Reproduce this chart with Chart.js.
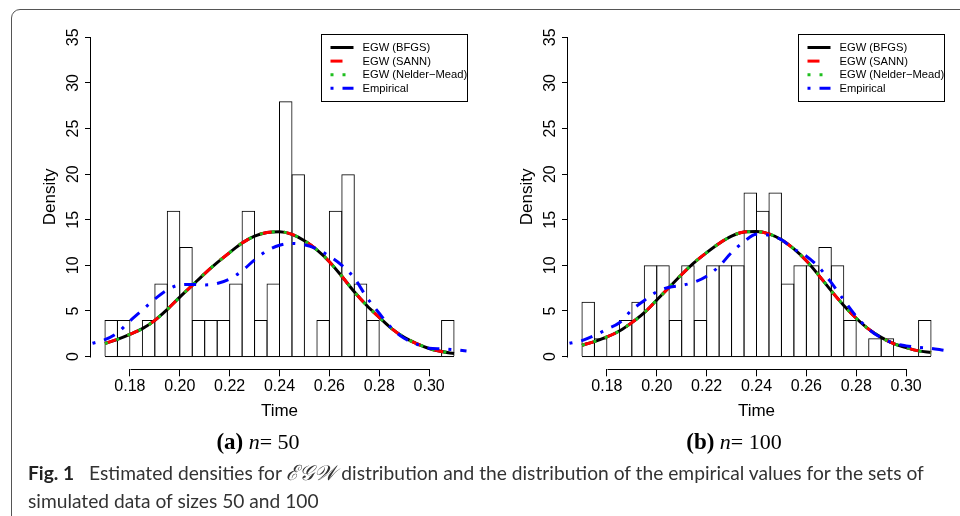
<!DOCTYPE html>
<html>
<head>
<meta charset="utf-8">
<script src="https://cdn.jsdelivr.net/npm/chart.js@4.4.1/dist/chart.umd.min.js"></script>
<style>
  body { margin: 0; width: 960px; height: 516px; background: #fff; overflow: hidden; position: relative; }
  #frame { position: absolute; left: 11px; top: 9px; width: 1000px; height: 600px;
           border: 1.5px solid #555; border-radius: 9px; }
  canvas { position: absolute; top: 0; }
  #c50 { left: 0; }
  #c100 { left: 477px; }
  .sub { position: absolute; top: 429px; width: 220px; text-align: center;
         font-family: "Liberation Serif", "Times New Roman", serif; font-size: 22px; line-height: 26px; color: #000; }
  .sub b { font-size: 23px; }
  #cap { position: absolute; left: 28px; top: 459px; font-family: Lato, "Open Sans", sans-serif;
         font-size: 19.2px; line-height: 27px; color: #333; white-space: nowrap; }
  #cap b { color: #222; margin-right: 10px; }
  .cal { font-family: "DejaVu Serif", serif; font-style: italic; font-size: 21px; }
</style>
</head>
<body>
<div id="frame"></div>
<canvas id="c50" width="480" height="430"></canvas>
<canvas id="c100" width="480" height="430"></canvas>
<div class="sub" style="left:148px"><b>(a)</b> <i>n</i>= 50</div>
<div class="sub" style="left:624px"><b>(b)</b> <i>n</i>= 100</div>
<div id="cap"><b>Fig. 1</b> Estimated densities for <span class="cal">ℰ𝒢𝒲</span> distribution and the distribution of the empirical values for the sets of<br>simulated data of sizes 50 and 100</div>

<script>
// histogram bin edges (Time)
const breaks = [0.170, 0.175, 0.180, 0.185, 0.190, 0.195, 0.200, 0.205, 0.210, 0.215,
                0.220, 0.225, 0.230, 0.235, 0.240, 0.245, 0.250, 0.255, 0.260, 0.265,
                0.270, 0.275, 0.280, 0.285, 0.290, 0.295, 0.300, 0.305, 0.310];

// histogram densities per bin
const hist50  = [4, 4, 0, 4, 8, 16, 12, 4, 4, 4, 8, 16, 4, 8, 28, 20, 0, 4, 16, 20, 8, 4, 0, 0, 0, 0, 0, 4];
const hist100 = [6, 2, 0, 4, 6, 10, 10, 4, 10, 4, 10, 10, 10, 18, 16, 18, 8, 10, 10, 12, 10, 4, 0, 2, 2, 0, 0, 4];

// fitted EGW density (BFGS, SANN and Nelder-Mead lie on top of each other)
const fitTime = [0.170, 0.175, 0.180, 0.185, 0.190, 0.195, 0.200, 0.205, 0.210, 0.215,
                 0.220, 0.225, 0.230, 0.235, 0.240, 0.245, 0.250, 0.255, 0.260, 0.265,
                 0.270, 0.275, 0.280, 0.285, 0.290, 0.295, 0.300, 0.305, 0.310];
const egw50  = [1.42, 1.89, 2.44, 3.06, 3.97, 5.17, 6.52, 7.8, 9.1, 10.3,
                11.4, 12.45, 13.2, 13.6, 13.68, 13.4, 12.7, 11.7, 10.4, 8.8,
                7.1, 5.6, 4.3, 3.06, 2.1, 1.42, 0.88, 0.55, 0.33];
const egw100 = [1.24, 1.64, 2.15, 2.8, 3.72, 4.81, 6.2, 7.6, 9.0, 10.3,
                11.4, 12.4, 13.2, 13.65, 13.7, 13.45, 12.8, 11.8, 10.5, 8.9,
                7.2, 5.6, 4.2, 3.0, 2.1, 1.42, 0.98, 0.62, 0.44];

// empirical (kernel) density
const empTime = [0.165, 0.170, 0.175, 0.180, 0.185, 0.190, 0.195, 0.200, 0.205, 0.210,
                 0.215, 0.220, 0.225, 0.230, 0.235, 0.240, 0.245, 0.250, 0.255, 0.260,
                 0.265, 0.270, 0.275, 0.280, 0.285, 0.290, 0.295, 0.300, 0.305, 0.310, 0.315];
const emp50  = [1.45, 1.85, 2.6, 3.9, 5.1, 6.3, 7.3, 7.85, 7.9, 7.85,
                8.0, 8.5, 9.4, 10.6, 11.6, 12.2, 12.4, 12.25, 11.8, 11.0,
                10.0, 8.6, 6.5, 4.75, 3.1, 2.0, 1.35, 0.92, 0.85, 0.75, 0.6];
const emp100 = [1.45, 1.75, 2.3, 3.0, 3.7, 5.1, 6.15, 7.1, 7.6, 7.8,
                8.15, 8.8, 9.9, 11.4, 12.6, 13.4, 13.3, 12.8, 11.8, 11.0,
                9.8, 8.1, 6.2, 4.4, 3.0, 2.05, 1.45, 1.17, 1.0, 0.9, 0.7];

const xRange = [0.1644, 0.3156];
const yRange = [-1.4, 36.4];

Chart.defaults.font.family = '"Liberation Sans", Arial, Helvetica, sans-serif';
Chart.defaults.color = '#000';

const xy = (xs, ys) => xs.map((x, i) => ({ x: x, y: ys[i] }));

// R-like axis lines: only between first and last tick
const rAxes = {
    id: 'rAxes',
    afterDraw(chart) {
        const { ctx, chartArea: a, scales: { x, y } } = chart;
        const xt = x.ticks, yt = y.ticks;
        ctx.save();
        ctx.strokeStyle = '#000';
        ctx.lineWidth = 1;
        ctx.beginPath();
        ctx.moveTo(Math.round(x.getPixelForValue(xt[0].value)) + 0.5, Math.round(a.bottom) + 0.5);
        ctx.lineTo(Math.round(x.getPixelForValue(xt[xt.length - 1].value)) + 0.5, Math.round(a.bottom) + 0.5);
        ctx.moveTo(Math.round(a.left) - 0.5, Math.round(y.getPixelForValue(yt[0].value)) + 0.5);
        ctx.lineTo(Math.round(a.left) - 0.5, Math.round(y.getPixelForValue(yt[yt.length - 1].value)) + 0.5);
        ctx.stroke();
        ctx.restore();
    }
};

/* LEGEND BOX (top right, like R's legend()) */
const legendBox = {
    id: 'legendBox',
    afterDraw(chart) {
        const ctx = chart.ctx, a = chart.chartArea;
        const items = chart.data.datasets.filter(d => d.label);
        const w = 146, h = 67;
        const x = Math.round(a.right - w) - 0.5, y = Math.round(a.top + 9) + 0.5;
        ctx.save();
        ctx.fillStyle = '#fff';
        ctx.fillRect(x, y, w, h);
        ctx.strokeStyle = '#000';
        ctx.lineWidth = 1;
        ctx.strokeRect(x, y, w, h);
        ctx.font = '11.2px "Liberation Sans", Arial, sans-serif';
        ctx.textBaseline = 'middle';
        items.forEach((d, i) => {
            const yy = y + 13 + i * 13.6;
            ctx.beginPath();
            ctx.setLineDash(d.borderDash || []);
            ctx.strokeStyle = d.borderColor;
            ctx.lineWidth = d.borderWidth;
            ctx.moveTo(x + 9, yy);
            ctx.lineTo(x + 32, yy);
            ctx.stroke();
            ctx.setLineDash([]);
            ctx.fillStyle = '#000';
            ctx.fillText(d.label, x + 41, yy + 0.5);
        });
        ctx.restore();
    }
};

function makeChart(id, hist, egw, emp) {
    const centers = hist.map((_, i) => (breaks[i] + breaks[i + 1]) / 2);
    const curve = { type: 'line', pointRadius: 0, fill: false, cubicInterpolationMode: 'monotone' };
    return new Chart(document.getElementById(id), {
        type: 'line',
        data: {
            datasets: [
                { type: 'bar', data: xy(centers, hist), backgroundColor: 'rgba(0,0,0,0)',
                  borderColor: '#000', borderWidth: 1, barPercentage: 1.08, categoryPercentage: 1, order: 6 },
                { type: 'line', data: xy([breaks[0], breaks[breaks.length - 1]], [0, 0]),
                  borderColor: '#000', borderWidth: 1, pointRadius: 0, order: 5 },
                { ...curve, label: 'EGW (BFGS)', data: xy(fitTime, egw), borderColor: '#000',
                  borderWidth: 3, order: 4 },
                { ...curve, label: 'EGW (SANN)', data: xy(fitTime, egw), borderColor: '#ff0000',
                  borderWidth: 3, borderDash: [12, 12], order: 3 },
                { ...curve, label: 'EGW (Nelder\u2212Mead)', data: xy(fitTime, egw), borderColor: '#1fbf1f',
                  borderWidth: 3, borderDash: [3, 9], order: 2 },
                { ...curve, label: 'Empirical', data: xy(empTime, emp), borderColor: '#0000ff',
                  borderWidth: 3, borderDash: [3, 9, 12, 9], order: 1 }
            ]
        },
        options: {
            responsive: false,
            animation: false,
            devicePixelRatio: 1,
            events: [],
            layout: { padding: { top: 24.6, right: 12, left: 0, bottom: 0 } },
            plugins: { legend: { display: false }, tooltip: { enabled: false } },
            scales: {
                x: {
                    type: 'linear', min: xRange[0], max: xRange[1], offset: false,
                    afterFit: s => { s.height = 60.7; },
                    border: { display: false },
                    grid: { offset: false, drawOnChartArea: false, drawTicks: true, tickLength: 7, color: '#000' },
                    ticks: { stepSize: 0.02, includeBounds: false, autoSkip: false, maxRotation: 0,
                             padding: 1, font: { size: 16 }, callback: v => v.toFixed(2) },
                    title: { display: true, text: 'Time', font: { size: 17 }, padding: { top: 0, bottom: 8.4 } }
                },
                y: {
                    min: yRange[0], max: yRange[1],
                    afterFit: s => { s.width = 91; },
                    border: { display: false },
                    grid: { drawOnChartArea: false, drawTicks: true, tickLength: 6, color: '#000' },
                    ticks: { stepSize: 5, includeBounds: false, autoSkip: false, minRotation: 90, maxRotation: 90,
                             crossAlign: 'center', padding: 3, font: { size: 16 } },
                    title: { display: true, text: 'Density', font: { size: 17 }, padding: { top: 39.8, bottom: 0 } }
                }
            }
        },
        plugins: [rAxes, legendBox]
    });
}

makeChart('c50', hist50, egw50, emp50);
makeChart('c100', hist100, egw100, emp100);
</script>
</body>
</html>
